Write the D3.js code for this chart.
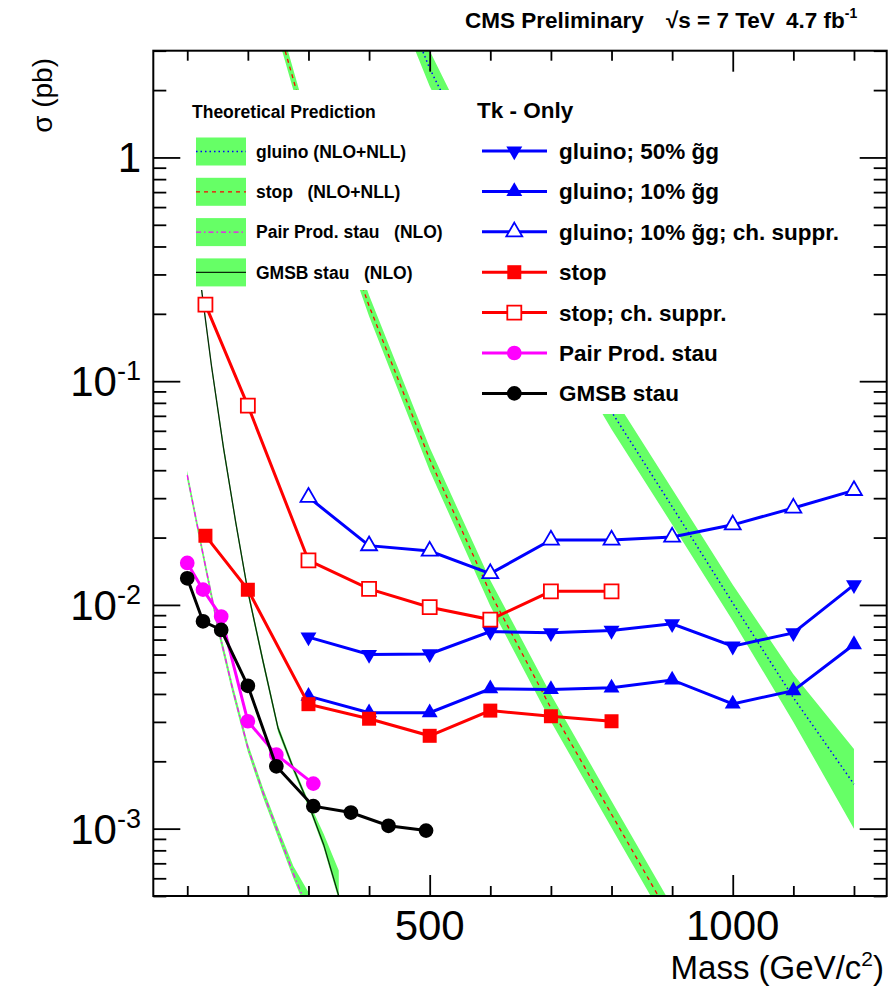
<!DOCTYPE html>
<html>
<head>
<meta charset="utf-8">
<script src="https://cdn.jsdelivr.net/npm/d3@7"></script>
<style>
body { margin: 0; background: #fff; }
text { font-family: "Liberation Sans", Arial, Helvetica, sans-serif; }
</style>
</head>
<body>
<svg id="chart" width="895" height="987"></svg>
<script>
// ---- measured limits (pb) vs mass (GeV/c^2) ----
const gluinoMass = [300, 400, 500, 600, 700, 800, 900, 1000, 1100, 1200];
const gluino50 = [0.00718, 0.0060, 0.00604, 0.0076, 0.0075, 0.00769, 0.00823, 0.00654, 0.0075, 0.0123];
const gluino10 = [0.00391, 0.0033, 0.0033, 0.00422, 0.00419, 0.00426, 0.00462, 0.00361, 0.00414, 0.00665];
const gluino10ch = [0.0303, 0.0184, 0.0174, 0.0138, 0.0195, 0.0195, 0.0201, 0.0228, 0.0271, 0.0325];

const stopMass = [130, 200, 300, 400, 500, 600, 700, 800];
const stopVals = [0.0204, 0.0117, 0.0036, 0.0031, 0.0026, 0.00337, 0.00318, 0.00302];
const stopChVals = [0.220, 0.0778, 0.0158, 0.0118, 0.00977, 0.0086, 0.0115, 0.0115];

const stauMass = [100, 126, 156, 200, 247, 308];
const pairStauVals = [0.0154, 0.0117, 0.00887, 0.00302, 0.00214, 0.00159];

const gmsbMass = [100, 126, 156, 200, 247, 308, 370, 432, 494];
const gmsbVals = [0.01315, 0.00845, 0.00773, 0.00435, 0.0019, 0.00126, 0.00118, 0.00103, 0.00098];

// ---- theory predictions: central, upper and lower edge of the band ----
const thGluinoMass = [450, 500, 600, 700, 800, 900, 1000, 1100, 1200];
const thGluinoVal = [5.4, 2.5, 0.71, 0.21, 0.073, 0.0275, 0.0102, 0.00385, 0.00158];
const thGluinoUp = [6.5, 3.0, 0.85, 0.255, 0.088, 0.033, 0.0123, 0.0049, 0.00227];
const thGluinoDn = [4.5, 2.08, 0.59, 0.175, 0.061, 0.0229, 0.0085, 0.0030, 0.0010];

const thStopMass = [240, 300, 400, 500, 600, 700, 800, 900];
const thStopVal = [4.8, 1.29, 0.217, 0.0448, 0.0113, 0.00346, 0.00116, 0.00039];
const thStopUp = [5.3, 1.43, 0.242, 0.0505, 0.0129, 0.00398, 0.00133, 0.00045];
const thStopDn = [4.3, 1.16, 0.195, 0.0398, 0.0099, 0.00301, 0.00101, 0.00034];

const thPairMass = [100, 125, 150, 175, 200, 225, 250, 275, 300];
const thPairVal = [0.038, 0.0174, 0.0081, 0.0042, 0.0023, 0.00145, 0.00096, 0.00063, 0.00043];
const thPairUp = [0.0398, 0.0182, 0.0085, 0.0044, 0.0024, 0.00152, 0.00101, 0.00068, 0.00052];
const thPairDn = [0.0362, 0.0166, 0.0077, 0.0040, 0.0022, 0.00138, 0.00091, 0.0006, 0.00041];

const thGmsbMass = [115, 125, 140, 160, 180, 200, 225, 250, 275, 300, 325, 350];
const thGmsbVal = [0.40, 0.24, 0.117, 0.050, 0.0234, 0.0115, 0.0056, 0.0028, 0.00186, 0.00129, 0.00085, 0.0005];
const thGmsbUp = [0.41, 0.247, 0.121, 0.052, 0.0242, 0.0119, 0.0058, 0.0029, 0.00192, 0.00133, 0.00095, 0.00065];
const thGmsbDn = [0.39, 0.233, 0.113, 0.048, 0.0226, 0.0111, 0.0054, 0.0027, 0.0018, 0.00125, 0.00082, 0.00048];

// ---- axis ticks ----
const xMajorTicks = [500, 1000];
const xMinorTicks = [100, 200, 300, 400, 600, 700, 800, 900, 1100, 1200];
const yMajorTicks = [1e-3, 1e-2, 1e-1, 1];
const yMajorLabels = [['10', '-3'], ['10', '-2'], ['10', '-1'], ['1', '']];

const m = {left: 153.3, right: 886.7, top: 50.7, bottom: 896};
const green = '#66ff66';

const x = d3.scaleLinear().domain([44, 1254]).range([m.left, m.right]);
const y = d3.scaleLog().domain([5e-4, 3]).range([m.bottom, m.top]);

const svg = d3.select('#chart');

svg.append('defs').append('clipPath').attr('id', 'plotclip')
    .append('rect')
    .attr('x', m.left).attr('y', m.top)
    .attr('width', m.right - m.left).attr('height', m.bottom - m.top);

const plot = svg.append('g').attr('clip-path', 'url(#plotclip)');

const zip = (ms, vs) => ms.map((mm, i) => [mm, vs[i]]);
const line = d3.line().x(d => x(d[0])).y(d => y(d[1]));
const area = d3.area().x(d => x(d.m)).y0(d => y(d.dn)).y1(d => y(d.up));

let theory = [
    {mass: thGluinoMass, val: thGluinoVal, up: thGluinoUp, dn: thGluinoDn, color: 'blue', dash: '1.5,3', width: 1.5},
    {mass: thStopMass, val: thStopVal, up: thStopUp, dn: thStopDn, color: 'red', dash: '4,4', width: 1.3},
    {mass: thPairMass, val: thPairVal, up: thPairUp, dn: thPairDn, color: '#ff00ff', dash: '5,3,1.5,3', width: 1.3},
    {mass: thGmsbMass, val: thGmsbVal, up: thGmsbUp, dn: thGmsbDn, color: '#0a2a0a', dash: null, width: 1.3},
];

theory.forEach(t => {
    plot.append('path')
        .attr('d', area(t.mass.map((mm, i) => ({m: mm, up: t.up[i], dn: t.dn[i]}))))
        .attr('fill', green);
});
theory.forEach(t => {
    plot.append('path')
        .attr('d', line(zip(t.mass, t.val)))
        .attr('fill', 'none')
        .attr('stroke', t.color)
        .attr('stroke-width', t.width)
        .attr('stroke-dasharray', t.dash);
});

// legend boxes are opaque and hide the curves behind them
svg.append('rect').attr('x', 183).attr('y', 90).attr('width', 272).attr('height', 200).attr('fill', 'white');
svg.append('rect').attr('x', 455).attr('y', 90).attr('width', 403).attr('height', 324).attr('fill', 'white');

// ---- measured series ----
let symbolPath = (shape) => {
    if (shape === 'square') return d3.symbol(d3.symbolSquare, 196)();
    if (shape === 'circle') return d3.symbol(d3.symbolCircle, 170)();
    return d3.symbol(d3.symbolTriangle, 110)();
};

let series = [
    {mass: gluinoMass, vals: gluino50, color: 'blue', shape: 'tri', rot: 180, filled: true, label: 'gluino; 50% g\u0303g'},
    {mass: gluinoMass, vals: gluino10, color: 'blue', shape: 'tri', rot: 0, filled: true, label: 'gluino; 10% g\u0303g'},
    {mass: gluinoMass, vals: gluino10ch, color: 'blue', shape: 'tri', rot: 0, filled: false, label: 'gluino; 10% g\u0303g; ch. suppr.'},
    {mass: stopMass, vals: stopVals, color: 'red', shape: 'square', rot: 0, filled: true, label: 'stop'},
    {mass: stopMass, vals: stopChVals, color: 'red', shape: 'square', rot: 0, filled: false, label: 'stop; ch. suppr.'},
    {mass: stauMass, vals: pairStauVals, color: '#ff00ff', shape: 'circle', rot: 0, filled: true, label: 'Pair Prod. stau'},
    {mass: gmsbMass, vals: gmsbVals, color: 'black', shape: 'circle', rot: 0, filled: true, label: 'GMSB stau'},
];

let drawMarker = (g, s, px, py) => {
    g.append('path')
        .attr('d', symbolPath(s.shape))
        .attr('transform', `translate(${px},${py}) rotate(${s.rot})`)
        .attr('fill', s.filled ? s.color : 'white')
        .attr('stroke', s.color)
        .attr('stroke-width', s.filled ? 0 : 1.8);
};

series.forEach(s => {
    let pts = zip(s.mass, s.vals);
    plot.append('path')
        .attr('d', line(pts))
        .attr('fill', 'none')
        .attr('stroke', s.color)
        .attr('stroke-width', 3);
    pts.forEach(p => drawMarker(plot, s, x(p[0]), y(p[1])));
});

// ---- legends ----
const legL = svg.append('g');
legL.append('text').attr('x', 192).attr('y', 117.5)
    .attr('font-size', 17.5).attr('font-weight', 'bold').text('Theoretical Prediction');
const theoryLabels = ['gluino (NLO+NLL)', 'stop   (NLO+NLL)', 'Pair Prod. stau   (NLO)', 'GMSB stau   (NLO)'];
theory.forEach((t, i) => {
    let cy = 151.5 + i * 40.3;
    legL.append('rect').attr('x', 196).attr('y', cy - 14).attr('width', 50).attr('height', 28).attr('fill', green);
    legL.append('line').attr('x1', 196).attr('x2', 246).attr('y1', cy).attr('y2', cy)
        .attr('stroke', t.color).attr('stroke-width', t.width).attr('stroke-dasharray', t.dash);
    legL.append('text').attr('x', 256).attr('y', cy + 6.3)
        .attr('font-size', 17.5).attr('font-weight', 'bold')
        .style('white-space', 'pre').text(theoryLabels[i]);
});

const legR = svg.append('g');
legR.append('text').attr('x', 477).attr('y', 118)
    .attr('font-size', 22.5).attr('font-weight', 'bold').text('Tk - Only');
series.forEach((s, i) => {
    let cy = 151 + i * 40.4;
    legR.append('line').attr('x1', 482).attr('x2', 547).attr('y1', cy).attr('y2', cy)
        .attr('stroke', s.color).attr('stroke-width', 3);
    drawMarker(legR, s, 514.3, cy);
    legR.append('text').attr('x', 559).attr('y', cy + 8)
        .attr('font-size', 22.5).attr('font-weight', 'bold').text(s.label);
});

// ---- axes ----
let styleAxis = g => {
    g.select('.domain').remove();
    g.selectAll('.tick line').attr('stroke', 'black').attr('stroke-width', 1.8);
};
svg.append('g').attr('transform', `translate(0,${m.bottom})`)
    .call(d3.axisBottom(x).tickValues(xMinorTicks).tickSize(-10).tickFormat('')).call(styleAxis);
svg.append('g').attr('transform', `translate(0,${m.bottom})`)
    .call(d3.axisBottom(x).tickValues(xMajorTicks).tickSize(-21).tickFormat('')).call(styleAxis);
svg.append('g').attr('transform', `translate(0,${m.top})`)
    .call(d3.axisTop(x).tickValues(xMinorTicks).tickSize(-10).tickFormat('')).call(styleAxis);
svg.append('g').attr('transform', `translate(0,${m.top})`)
    .call(d3.axisTop(x).tickValues(xMajorTicks).tickSize(-21).tickFormat('')).call(styleAxis);

const yMinorTicks = y.ticks().filter(v => !yMajorTicks.some(t => Math.abs(t - v) / t < 1e-6));
[[d3.axisLeft, m.left], [d3.axisRight, m.right]].forEach(([ax, pos]) => {
    svg.append('g').attr('transform', `translate(${pos},0)`)
        .call(ax(y).tickValues(yMinorTicks).tickSize(-13).tickFormat('')).call(styleAxis);
    svg.append('g').attr('transform', `translate(${pos},0)`)
        .call(ax(y).tickValues(yMajorTicks).tickSize(-27).tickFormat('')).call(styleAxis);
});

svg.append('rect')
    .attr('x', m.left).attr('y', m.top)
    .attr('width', m.right - m.left).attr('height', m.bottom - m.top)
    .attr('fill', 'none').attr('stroke', 'black').attr('stroke-width', 2);

// tick labels
xMajorTicks.forEach(v => {
    svg.append('text').attr('x', x(v)).attr('y', 940)
        .attr('text-anchor', 'middle').attr('font-size', 42).text(v);
});
yMajorTicks.forEach((v, i) => {
    let t = svg.append('text').attr('x', 141).attr('y', y(v) + 15)
        .attr('text-anchor', 'end').attr('font-size', 42);
    t.append('tspan').text(yMajorLabels[i][0]);
    if (yMajorLabels[i][1]) {
        t.append('tspan').attr('dy', -16).attr('font-size', 27).text(yMajorLabels[i][1]);
    }
});

// axis titles
let xt = svg.append('text').attr('x', 884).attr('y', 979)
    .attr('text-anchor', 'end').attr('font-size', 33);
xt.append('tspan').text('Mass (GeV/c');
xt.append('tspan').attr('dy', -13).attr('font-size', 21).text('2');
xt.append('tspan').attr('dy', 13).text(')');

svg.append('text')
    .attr('transform', 'translate(52,58) rotate(-90)')
    .attr('text-anchor', 'end').attr('font-size', 28).text('\u03c3 (pb)');

// header
svg.append('text').attr('x', 465).attr('y', 28).attr('font-size', 22.5).attr('font-weight', 'bold')
    .text('CMS Preliminary');
svg.append('text').attr('x', 666).attr('y', 28).attr('font-size', 22.5).attr('font-weight', 'bold')
    .text('\u221as = 7 TeV');
let lumi = svg.append('text').attr('x', 786).attr('y', 28).attr('font-size', 22.5).attr('font-weight', 'bold');
lumi.append('tspan').text('4.7 fb');
lumi.append('tspan').attr('dy', -10).attr('font-size', 14).text('-1');
</script>
</body>
</html>
